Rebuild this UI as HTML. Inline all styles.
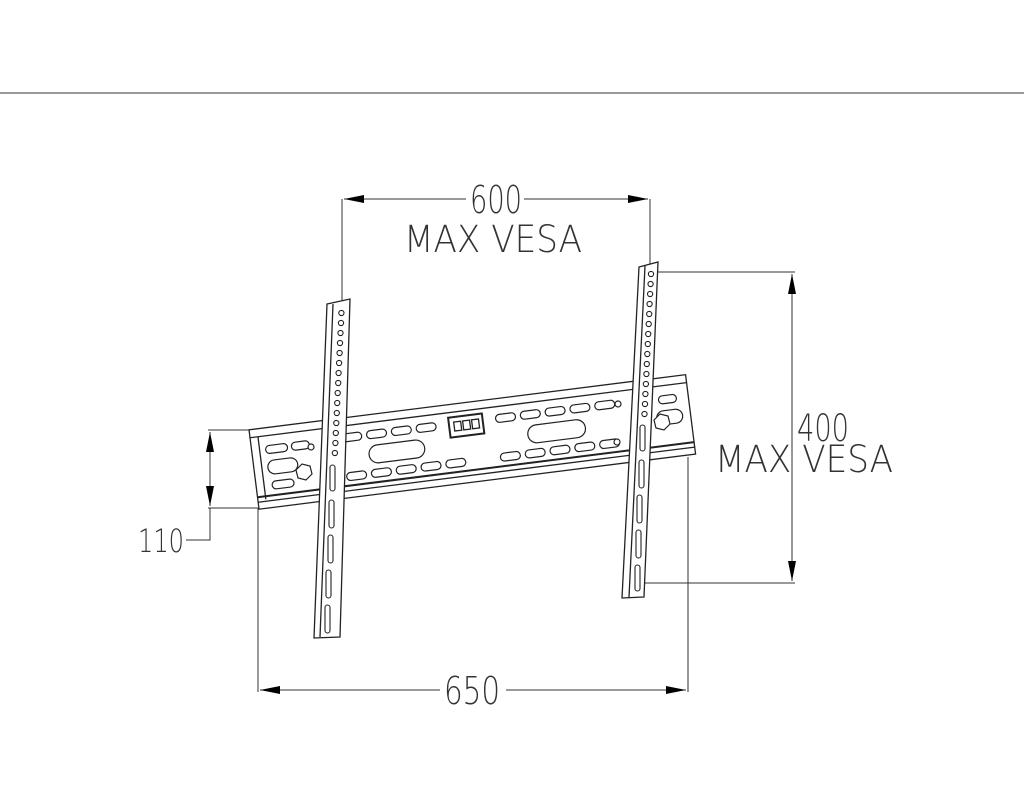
<!DOCTYPE html>
<html><head><meta charset="utf-8"><style>
html,body{margin:0;padding:0;background:#fff;}
svg{display:block}
text{font-family:"DejaVu Sans","Liberation Sans",sans-serif;font-weight:200;fill:#333;}
</style></head><body>
<svg width="1024" height="800" viewBox="0 0 1024 800" xmlns="http://www.w3.org/2000/svg">
<defs>
<marker id="a" viewBox="0 0 20 8" refX="20" refY="4" markerWidth="20" markerHeight="8" markerUnits="userSpaceOnUse" orient="auto-start-reverse"><path d="M0,0 L20,4 L0,8 Z" fill="#000"/></marker>
</defs>
<line x1="0" y1="93" x2="1024" y2="93" stroke="#333" stroke-width="1"/>

<g stroke="#333" stroke-width="1" fill="none">
<!-- 600 dim -->
<line x1="342" y1="199" x2="342" y2="303"/>
<line x1="650" y1="199" x2="650" y2="266"/>
<line x1="344" y1="199" x2="466" y2="199" marker-start="url(#a)"/>
<line x1="524" y1="199" x2="648" y2="199" marker-end="url(#a)"/>
<!-- 400 dim -->
<line x1="655" y1="272" x2="795" y2="272"/>
<line x1="645" y1="583" x2="795" y2="583"/>
<line x1="792" y1="274" x2="792" y2="581" marker-start="url(#a)" marker-end="url(#a)"/>
<!-- 110 dim -->
<line x1="208" y1="430" x2="258" y2="430"/>
<line x1="208" y1="508" x2="258" y2="508"/>
<line x1="210" y1="432" x2="210" y2="506" marker-start="url(#a)" marker-end="url(#a)"/>
<polyline points="210,508 210,540 186,540"/>
<!-- 650 dim -->
<line x1="258" y1="508" x2="258" y2="692"/>
<line x1="688" y1="457" x2="688" y2="692"/>
<line x1="260" y1="690" x2="440" y2="690" marker-start="url(#a)"/>
<line x1="506" y1="690" x2="686" y2="690" marker-end="url(#a)"/>
</g>

<text x="470" y="213" font-size="38" textLength="52" lengthAdjust="spacingAndGlyphs">600</text>
<text x="404" y="252" font-size="37" textLength="178" lengthAdjust="spacingAndGlyphs">MAX VESA</text>
<text x="797" y="441" font-size="37" textLength="52" lengthAdjust="spacingAndGlyphs">400</text>
<text x="715" y="472" font-size="37" textLength="178" lengthAdjust="spacingAndGlyphs">MAX VESA</text>
<text x="138" y="552" font-size="32" textLength="46" lengthAdjust="spacingAndGlyphs">110</text>
<text x="444" y="704" font-size="38" textLength="56" lengthAdjust="spacingAndGlyphs">650</text>

<!-- rail -->
<g transform="rotate(-7.2 258 469)" stroke="#222" stroke-width="1.3" fill="#fff">
<rect x="254" y="429" width="440" height="80"/>
<line x1="254" y1="437" x2="694" y2="437"/>
<line x1="262" y1="437" x2="262" y2="500"/>
<line x1="254" y1="497" x2="694" y2="497" stroke-width="2"/>
<line x1="254" y1="502" x2="694" y2="502"/>
<g fill="none" stroke-width="1.2">
<rect x="268" y="447" width="22" height="8" rx="4"/><rect x="294" y="447" width="18" height="8" rx="4"/>
<rect x="268" y="462" width="30" height="14" rx="7"/>
<rect x="270" y="483" width="22" height="8" rx="4"/>
<rect x="345" y="445" width="20" height="8" rx="4"/><rect x="370" y="445" width="20" height="8" rx="4"/><rect x="395" y="445" width="20" height="8" rx="4"/><rect x="420" y="445" width="20" height="8" rx="4"/>
<rect x="370" y="460" width="56" height="18" rx="9"/>
<rect x="345" y="484" width="20" height="8" rx="4"/><rect x="370" y="484" width="20" height="8" rx="4"/><rect x="395" y="484" width="20" height="8" rx="4"/><rect x="420" y="484" width="20" height="8" rx="4"/><rect x="445" y="484" width="20" height="8" rx="4"/>
<rect x="500" y="445" width="20" height="8" rx="4"/><rect x="525" y="445" width="20" height="8" rx="4"/><rect x="550" y="445" width="20" height="8" rx="4"/><rect x="575" y="445" width="20" height="8" rx="4"/><rect x="600" y="445" width="20" height="8" rx="4"/>
<rect x="530" y="460" width="58" height="18" rx="9"/>
<rect x="500" y="484" width="20" height="8" rx="4"/><rect x="525" y="484" width="20" height="8" rx="4"/><rect x="550" y="484" width="20" height="8" rx="4"/><rect x="575" y="484" width="20" height="8" rx="4"/><rect x="600" y="484" width="20" height="8" rx="4"/>
<rect x="664" y="447" width="18" height="8" rx="4"/><rect x="660" y="462" width="26" height="14" rx="7"/>
</g>
<rect x="453" y="442" width="34" height="20" stroke-width="2"/>
<rect x="458" y="447" width="7" height="9"/><rect x="467" y="447" width="7" height="9"/><rect x="476" y="447" width="7" height="9"/>
</g>
<!-- knobs -->
<g stroke="#222" stroke-width="1.2" fill="#fff">
<path d="M296,470 l6,-6 l8,2 l2,8 l-6,6 l-8,-2 Z"/>
<path d="M654,420 l6,-6 l8,2 l2,8 l-6,6 l-8,-2 Z"/>
<circle cx="311" cy="447" r="3"/><circle cx="618" cy="404" r="3"/><circle cx="617" cy="442" r="3"/>
</g>

<!-- left bracket -->
<g stroke="#222" stroke-width="1.3" fill="#fff">
<polygon points="327,304 350,299 340,637 314,638"/>
<line x1="333" y1="304" x2="320" y2="637"/>
</g>
<g stroke="#222" stroke-width="1.1" fill="none">
<circle cx="341.4" cy="313" r="2.6"/><circle cx="341" cy="323" r="2.6"/><circle cx="340.5" cy="333" r="2.6"/><circle cx="340" cy="343" r="2.6"/><circle cx="339.6" cy="353" r="2.6"/><circle cx="339.1" cy="363" r="2.6"/><circle cx="338.6" cy="373" r="2.6"/><circle cx="338.2" cy="383" r="2.6"/><circle cx="337.7" cy="393" r="2.6"/><circle cx="337.2" cy="403" r="2.6"/><circle cx="336.8" cy="413" r="2.6"/><circle cx="336.3" cy="423" r="2.6"/><circle cx="335.8" cy="433" r="2.6"/><circle cx="335.4" cy="443" r="2.6"/><circle cx="334.9" cy="453" r="2.6"/>
<rect x="330" y="465" width="5" height="26" rx="2.5"/><rect x="329" y="500" width="5" height="28" rx="2.5"/><rect x="328" y="535" width="5" height="28" rx="2.5"/><rect x="326" y="570" width="5" height="28" rx="2.5"/><rect x="325" y="605" width="5" height="28" rx="2.5"/>
</g>

<!-- right bracket -->
<g stroke="#222" stroke-width="1.3" fill="#fff">
<polygon points="639,267 658,262 644,597 622,598"/>
<line x1="645" y1="266" x2="629" y2="597"/>
</g>
<g stroke="#222" stroke-width="1.1" fill="none">
<circle cx="651" cy="274" r="2.6"/><circle cx="650.6" cy="284" r="2.6"/><circle cx="650.1" cy="294" r="2.6"/><circle cx="649.6" cy="304" r="2.6"/><circle cx="649.2" cy="314" r="2.6"/><circle cx="648.7" cy="324" r="2.6"/><circle cx="648.2" cy="334" r="2.6"/><circle cx="647.8" cy="344" r="2.6"/><circle cx="647.3" cy="354" r="2.6"/><circle cx="646.8" cy="364" r="2.6"/><circle cx="646.4" cy="374" r="2.6"/><circle cx="645.9" cy="384" r="2.6"/><circle cx="645.4" cy="394" r="2.6"/><circle cx="645" cy="404" r="2.6"/><circle cx="644.5" cy="414" r="2.6"/>
<rect x="640" y="425" width="5" height="26" rx="2.5"/><rect x="639" y="460" width="5" height="28" rx="2.5"/><rect x="637" y="495" width="5" height="28" rx="2.5"/><rect x="636" y="530" width="5" height="28" rx="2.5"/><rect x="635" y="565" width="5" height="26" rx="2.5"/>
</g>
</svg>
</body></html>
